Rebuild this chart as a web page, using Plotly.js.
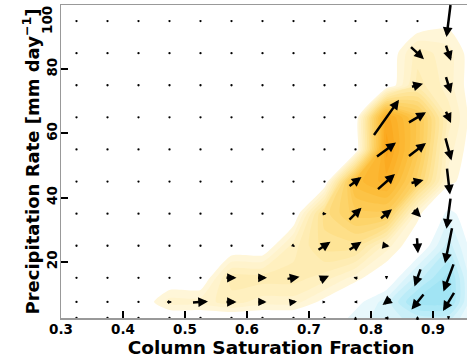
<!DOCTYPE html>
<html>
<head>
<meta charset="utf-8">
<script src="https://cdn.plot.ly/plotly-3.0.1.min.js"></script>
<style>html,body{margin:0;padding:0;background:#fff;overflow:hidden;width:467px;height:360px}</style>
</head>
<body>
<div id="chart" style="width:481px;height:360px"></div>
<script>
// Grid of bin centres
const X = [0.325,0.375,0.425,0.475,0.525,0.575,0.625,0.675,0.725,0.775,0.825,0.875,0.925];
const Y = [2.5,7.5,15,25,35,45,55,65,75,85,95];

// Vector field components (null = no data)
const n = null;
const U = [
  [n,n,n,n,n,n,n,n,n, 0,-4, 0, 0],
  [n,n,n, 5,15,10, 8, 7, 2,-3,-8,-12,-11],
  [n,n,n,n,n,10, 9,12, 9,-4, 0,-6,-10],
  [n,n,n,n,n,n,n, 3,12,12, 6, 1,-7],
  [n,n,n,n,n,n,n,n, 4,12,11, 7,-4],
  [n,n,n,n,n,n,n,n,n,12,17,12, 3],
  [n,n,n,n,n,n,n,n,n,n,19,17, 6],
  [n,n,n,n,n,n,n,n,n,n,25,17, 5],
  [n,n,n,n,n,n,n,n,n,n,n,11, 5],
  [n,n,n,n,n,n,n,n,n,n,n,13, 5],
  [n,n,n,n,n,n,n,n,n,n,n,n,-4]
];
const V = [
  [n,n,n,n,n,n,n,n,n, 3, 0, 4,-3],
  [n,n,n, 0, 1, 0, 0, 1, 0, 0,-6,-15,-18],
  [n,n,n,n,n, 0, 0, 2, 4, 1,-3,-17,-27],
  [n,n,n,n,n,n,n,-2, 8, 8,-1,-15,-35],
  [n,n,n,n,n,n,n,n, 0,12, 9,-7,-30],
  [n,n,n,n,n,n,n,n,n, 9,15, 3,-26],
  [n,n,n,n,n,n,n,n,n,n,14,13,-22],
  [n,n,n,n,n,n,n,n,n,n,35,10,-11],
  [n,n,n,n,n,n,n,n,n,n,n, 3,-16],
  [n,n,n,n,n,n,n,n,n,n,n,-12,-15],
  [n,n,n,n,n,n,n,n,n,n,n,n,-32]
];
// Shaded field (null = no data)
const Z = [
  [n,n,n,n,n,n,n,n,n,-1,-1.5,-2,-2],
  [n,n,n,1.5,1.5,2,1.5,1.5,0.5,-0.5,-1.5,-3.5,-3.5],
  [n,n,n,n,n,2.5,2.5,2.5,2,1,0,-2,-3.5],
  [n,n,n,n,n,n,n,2,3.5,3.5,1.5,0,-2],
  [n,n,n,n,n,n,n,n,4,5.5,5.5,1,-1],
  [n,n,n,n,n,n,n,n,n,7,8,5,1],
  [n,n,n,n,n,n,n,n,n,n,9,6,1.5],
  [n,n,n,n,n,n,n,n,n,n,8.5,6,2],
  [n,n,n,n,n,n,n,n,n,n,n,2.5,1.5],
  [n,n,n,n,n,n,n,n,n,n,n,2,1.5],
  [n,n,n,n,n,n,n,n,n,n,n,n,0.5]
];
const xTicks = [0.3,0.4,0.5,0.6,0.7,0.8,0.9];
const xTickText = ['0.3','0.4','0.5','0.6','0.7','0.8','0.9'];
const yTicks = [20,40,60,80,100];
const yTickText = ['20','40','60','80',' '];

const SX = 1/620, SY = 1/3.2;   // vector units -> data units
const font = {family:'DejaVu Sans', color:'#000', weight:'bold'};

// Shaded field for drawing: missing bins read as zero, and the grid is
// padded by one empty bin on the left, right and top so its border lies
// outside the visible plot area.
const step = X[1] - X[0];
const xPad = [X[0] - step].concat(X, [X[X.length - 1] + step]);
const yPad = Y.concat([Y[Y.length - 1] + 10]);
const zPad = Z.map(r => [0].concat(r.map(v => v === null ? 0 : v), [0]));
zPad.push(xPad.map(() => 0));

const dotsX = [], dotsY = [], annotations = [];
for (let j = 0; j < Y.length; j++) {
  for (let i = 0; i < X.length; i++) {
    const u = U[j][i], v = V[j][i];
    if (u === null) { dotsX.push(X[i]); dotsY.push(Y[j]); continue; }
    const len = Math.hypot(u, v);
    annotations.push({
      xref:'x', yref:'y', axref:'x', ayref:'y',
      x: X[i] + u*SX/2, y: Y[j] + v*SY/2,
      ax: X[i] - u*SX/2, ay: Y[j] - v*SY/2,
      text:'', font:{size:1}, borderpad:0, borderwidth:0,
      showarrow:true, arrowhead:2,
      arrowsize: Math.min(0.78, 0.3 + len*0.045),
      arrowwidth: len < 6 ? 1.5 : 2.5,
      arrowcolor:'#000', standoff:0, startstandoff:0
    });
  }
}
annotations.push({
  xref:'paper', yref:'y', x:0, y:100, xanchor:'right', yanchor:'middle',
  xshift:-4, yshift:-15, text:'100', textangle:-90, showarrow:false,
  font:Object.assign({size:13.5}, font)
});

const colorscale = [
  [0.0,'#ffffff'],[0.02,'#19a9d6'],[0.25,'#7fd7ef'],[0.35,'#ace8f6'],[0.46,'#eefafd'],
  [0.475,'#ffffff'],[0.525,'#ffffff'],[0.55,'#fff6d8'],[0.65,'#fee9a6'],[0.75,'#fdd46a'],
  [0.85,'#fcbd3a'],[0.95,'#fba418'],[1.0,'#f99a08']
];

const data = [
  {type:'contour', x:xPad, y:yPad, z:zPad, zmin:-10, zmax:10, colorscale:colorscale,
   contours:{coloring:'fill', start:-9.75, end:9.75, size:0.5, showlines:false},
   line:{width:0, smoothing:0.6}, showscale:false, hoverinfo:'skip'},
  {type:'scatter', mode:'markers', x:dotsX, y:dotsY, cliponaxis:false,
   marker:{size:2.3, color:'#000'}, hoverinfo:'skip'}
];

const layout = {
  width:481, height:360,
  margin:{l:61, r:0, t:5, b:42},
  paper_bgcolor:'#fff', plot_bgcolor:'#fff',
  showlegend:false,
  xaxis:{range:[0.3, 0.3 + 420/620], tickvals:xTicks, ticktext:xTickText,
    ticks:'inside', ticklen:7, tickwidth:2, tickcolor:'#000',
    showline:true, linecolor:'#999', linewidth:1.5, mirror:true,
    showgrid:false, zeroline:false, tickfont:Object.assign({size:13.5}, font),
    ticklabelstandoff:-2,
    title:{text:'Column Saturation Fraction', font:Object.assign({size:18.5}, font), standoff:0}},
  yaxis:{range:[2.5,100], tickvals:yTicks, ticktext:yTickText, tickangle:-90,
    ticks:'inside', ticklen:7, tickwidth:2, tickcolor:'#000',
    showline:true, linecolor:'#999', linewidth:1.5, mirror:false,
    showgrid:false, zeroline:false, tickfont:Object.assign({size:13.5}, font),
    ticklabelstandoff:-3,
    title:{text:'Precipitation Rate [mm day<sup>\u22121</sup>]', font:Object.assign({size:18}, font), standoff:0}},
  annotations:annotations
};

Plotly.newPlot('chart', data, layout, {staticPlot:true});
</script>
</body>
</html>
